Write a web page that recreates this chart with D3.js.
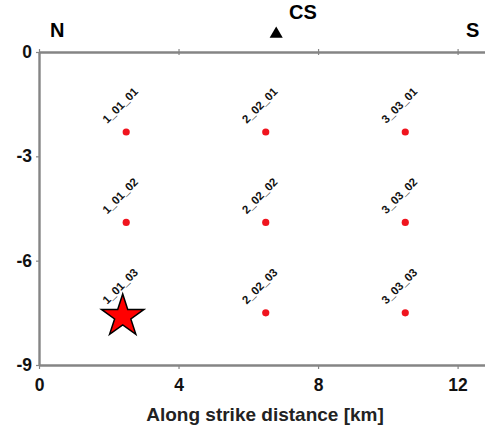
<!DOCTYPE html>
<html>
<head>
<meta charset="utf-8">
<script src="https://cdn.jsdelivr.net/npm/d3@7"></script>
<style>
  body { margin: 0; background: #fff; }
  svg text { font-family: Arial, "Liberation Sans", sans-serif; font-weight: bold; }
</style>
</head>
<body>
<svg id="chart" width="485" height="430"></svg>
<script>
// station names and positions (km)
const names = ['1_01_01', '2_02_01', '3_03_01',
  '1_01_02', '2_02_02', '3_03_02',
  '1_01_03', '2_02_03', '3_03_03'];
const alongStrike = [2.5, 6.5, 10.5, 2.5, 6.5, 10.5, 2.5, 6.5, 10.5];
const depth = [-2.3, -2.3, -2.3, -4.9, -4.9, -4.9, -7.5, -7.5, -7.5];

// hypocentre
const hypo = [2.4, -7.6];
// cross section marker
const csX = 6.8;

const xTicks = [0, 4, 8, 12];
const yTicks = [0, -3, -6, -9];

const svg = d3.select('#chart');
const axisColor = '#858585';

const x = d3.scaleLinear().domain([0, 12.8]).range([39, 485.5]);
const y = d3.scaleLinear().domain([0, -9]).range([52, 365]);

// top axis line
const topAxis = svg.append('g')
  .attr('transform', `translate(0,${y(0)})`)
  .call(d3.axisTop(x).tickValues(xTicks).tickSize(3).tickSizeOuter(0).tickFormat(''));

// bottom axis
const bottomAxis = svg.append('g')
  .attr('transform', `translate(0,${y(-9)})`)
  .call(d3.axisBottom(x).tickValues(xTicks).tickSize(4).tickSizeOuter(0)
    .tickPadding(10).tickFormat(d => String(d)));

// left axis
const leftAxis = svg.append('g')
  .attr('transform', `translate(${x(0)},0)`)
  .call(d3.axisLeft(y).tickValues(yTicks).tickSize(3).tickSizeOuter(0)
    .tickPadding(4).tickFormat(d => String(d)));

[topAxis, bottomAxis, leftAxis].forEach(g => {
  g.attr('font-family', null).attr('font-size', null);
  g.select('.domain').attr('stroke', axisColor).attr('stroke-width', 2.4);
  g.selectAll('.tick line').attr('stroke', axisColor).attr('stroke-width', 1.2);
  g.selectAll('text').attr('font-size', 17.5).attr('fill', '#111');
});
topAxis.selectAll('.tick line').attr('y2', 3).attr('y1', -3);

// stations
const pts = names.map((n, i) => ({ name: n, x: alongStrike[i], y: depth[i] }));

svg.append('g').selectAll('circle')
  .data(pts)
  .join('circle')
  .attr('cx', d => x(d.x))
  .attr('cy', d => y(d.y))
  .attr('r', 3.6)
  .attr('fill', '#f0141e');

svg.append('g').selectAll('text')
  .data(pts)
  .join('text')
  .attr('transform', d => `translate(${x(d.x) - 19},${y(d.y) - 8}) rotate(-45)`)
  .attr('font-size', 11.5)
  .attr('fill', '#111')
  .text(d => d.name);

// hypocentre star
svg.append('path')
  .attr('d', d3.symbol(d3.symbolStar).size(560)())
  .attr('transform', `translate(${x(hypo[0])},${y(hypo[1])})`)
  .attr('fill', '#ff0000')
  .attr('stroke', '#000')
  .attr('stroke-width', 1.5);

// orientation labels
svg.append('text').attr('x', 50).attr('y', 37).attr('font-size', 20).text('N');
svg.append('text').attr('x', 466).attr('y', 37).attr('font-size', 20).text('S');

svg.append('path')
  .attr('d', d3.symbol(d3.symbolTriangle).size(75)())
  .attr('transform', `translate(${x(csX)},34)`)
  .attr('fill', '#000');
svg.append('text').attr('x', 289).attr('y', 19).attr('font-size', 20).text('CS');

// x title
svg.append('text')
  .attr('x', 265).attr('y', 421)
  .attr('text-anchor', 'middle')
  .attr('font-size', 19)
  .attr('fill', '#222')
  .text('Along strike distance [km]');
</script>
</body>
</html>
